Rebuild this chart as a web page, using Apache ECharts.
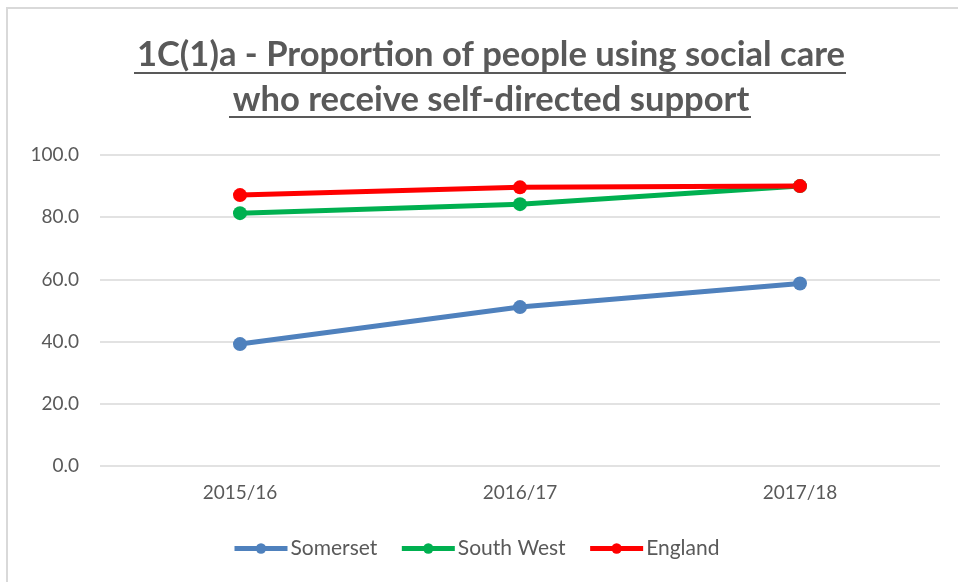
<!DOCTYPE html>
<html>
<head>
<meta charset="utf-8">
<script src="https://cdn.jsdelivr.net/npm/echarts@6/dist/echarts.min.js"></script>
<style>html,body{margin:0;padding:0;background:#fff;}#c{width:958px;height:582px;}</style>
</head>
<body>
<div id="c"></div>
<script>
var categories = ['2015/16', '2016/17', '2017/18'];
var somerset = [39.2, 51.1, 58.7];
var southWest = [81.3, 84.2, 90.0];
var england = [87.1, 89.6, 90.0];
var yTicks = [0, 20, 40, 60, 80, 100];

var chart = echarts.init(document.getElementById('c'));
var font = 'Lato, "Open Sans", sans-serif';
function mk(name, data, color) {
  return {
    name: name, type: 'line', data: data,
    symbol: 'circle', symbolSize: 14,
    lineStyle: { color: color, width: 5 },
    itemStyle: { color: color },
    z: 3
  };
}
chart.setOption({
  animation: false,
  backgroundColor: '#fff',
  title: {
    text: '1C(1)a - Proportion of people using social care\nwho receive self-directed support',
    left: 486, top: 27, textAlign: 'center',
    textStyle: { fontFamily: font, fontSize: 34.6, fontWeight: 'bold', color: '#595959', lineHeight: 45 }
  },
  graphic: [
    { type: 'rect', shape: { x: 7, y: 8, width: 1000, height: 1000 }, style: { fill: 'none', stroke: '#d9d9d9', lineWidth: 2 }, silent: true },
    { type: 'line', shape: { x1: 134, y1: 73, x2: 846, y2: 73 }, style: { stroke: '#595959', lineWidth: 2 } },
    { type: 'line', shape: { x1: 229, y1: 117, x2: 751, y2: 117 }, style: { stroke: '#595959', lineWidth: 2 } }
  ],
  grid: { left: 100, right: 18, top: 155, bottom: 116 },
  xAxis: {
    type: 'category', data: categories, boundaryGap: true,
    axisLine: { show: false }, axisTick: { show: false },
    axisLabel: { color: '#595959', fontFamily: font, fontSize: 19, margin: 17 }
  },
  yAxis: {
    type: 'value', min: 0, max: 100, interval: 20,
    axisLine: { show: false }, axisTick: { show: false },
    axisLabel: { color: '#595959', fontFamily: font, fontSize: 19, margin: 21,
      formatter: function (v) { return yTicks.indexOf(v) >= 0 ? v.toFixed(1) : ''; } },
    splitLine: { lineStyle: { color: '#d9d9d9', width: 1.5 } }
  },
  legend: {
    bottom: 18, left: 227, itemWidth: 53, itemHeight: 13, itemGap: 22,
    lineStyle: { width: 5 },
    textStyle: { color: '#595959', fontFamily: font, fontSize: 21, padding: [0, 0, 0, -2] },
    data: ['Somerset', 'South West', 'England']
  },
  series: [
    mk('Somerset', somerset, '#4f81bd'),
    mk('South West', southWest, '#00b050'),
    mk('England', england, '#ff0000')
  ]
});
</script>
</body>
</html>
